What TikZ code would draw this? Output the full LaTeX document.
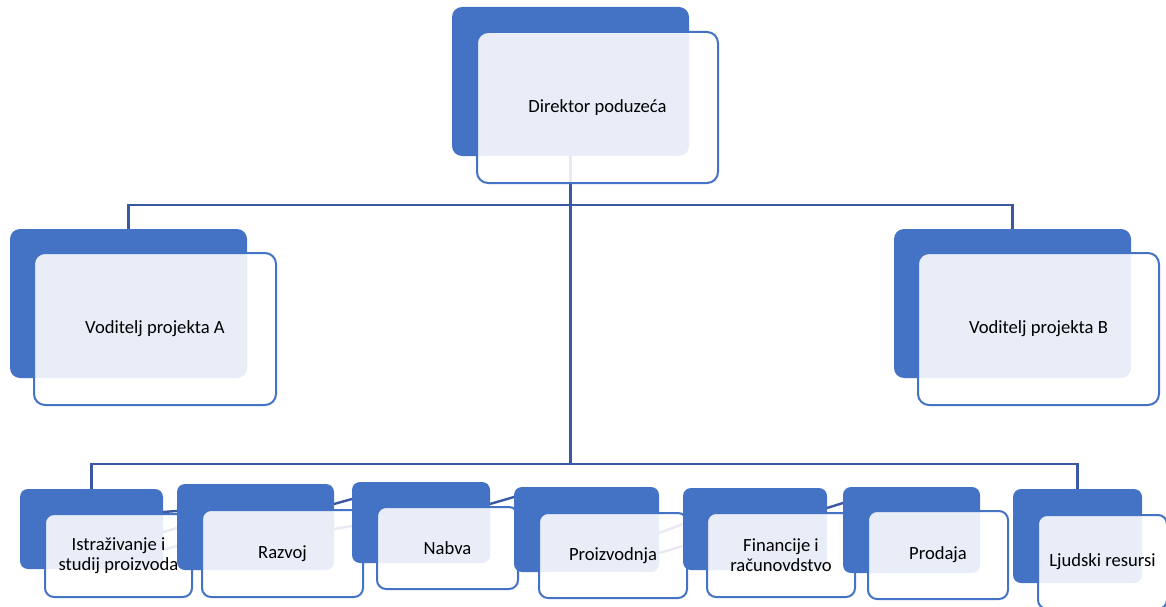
\documentclass[tikz,border=0pt]{standalone}
\usepackage{fontspec}
\setmainfont{Carlito}
\usetikzlibrary{backgrounds,calc}
\definecolor{accent}{RGB}{68,114,196}
\definecolor{conn}{RGB}{59,89,163}
\begin{document}
\begin{tikzpicture}[x=1pt,y=-1pt,
  back/.style={fill=accent, draw=none, rounded corners=10pt, inner sep=0pt, outer sep=0pt},
  front/.style={fill=white, fill opacity=0.88, text opacity=1, draw=accent, line width=2pt,
    rounded corners=11pt, inner sep=0pt, outer sep=0pt, align=center,
    font=\fontsize{18.6}{20.5}\selectfont},
  sfront/.style={front, rounded corners=9pt},
  sback/.style={back, rounded corners=8pt},
  link/.style={draw=conn, line width=2.4pt}]
\useasboundingbox (0,0) rectangle (1166,607);
\clip (0,0) rectangle (1166,607);
% top
\node[back, minimum width=237pt, minimum height=149pt] (dirB) at (570.5,81.5) {};
\node[front, minimum width=241pt, minimum height=151pt] (dirF) at (597.5,107.5) {Direktor poduzeća};
% middle
\node[back, minimum width=237pt, minimum height=149pt] (vaB) at (128.5,303.5) {};
\node[front, minimum width=242pt, minimum height=152pt] (vaF) at (155,329) {Voditelj projekta A};
\node[back, minimum width=237pt, minimum height=149pt] (vbB) at (1012.5,303.5) {};
\node[front, minimum width=241pt, minimum height=152pt] (vbF) at (1038.5,329) {Voditelj projekta B};
% bottom row
\node[sback, minimum width=143pt, minimum height=80pt] (b1) at (91.5,529) {};
\node[sfront, minimum width=147pt, minimum height=83pt] (f1) at (118.5,555.5) {Istraživanje i\\studij proizvoda};
\node[sback, minimum width=157pt, minimum height=86pt] (b2) at (255.5,527) {};
\node[sfront, minimum width=161pt, minimum height=87pt] (f2) at (282.5,553.5) {Razvoj};
\node[sback, minimum width=138pt, minimum height=81pt] (b3) at (421,522.5) {};
\node[sfront, minimum width=141pt, minimum height=82pt] (f3) at (447.5,548) {Nabva};
\node[sback, minimum width=145pt, minimum height=85pt] (b4) at (586.5,529.5) {};
\node[sfront, minimum width=148pt, minimum height=85pt] (f4) at (613,555.5) {Proizvodnja};
\node[sback, minimum width=144pt, minimum height=82pt] (b5) at (755,529) {};
\node[sfront, minimum width=148pt, minimum height=84pt] (f5) at (781,555) {Financije i\\računovdstvo};
\node[sback, minimum width=137pt, minimum height=86pt] (b6) at (911.5,530) {};
\node[sfront, minimum width=140pt, minimum height=88pt] (f6) at (938,555) {Prodaja};
\node[sback, minimum width=129pt, minimum height=94pt] (b7) at (1077.5,536) {};
\node[sfront, minimum width=129pt, minimum height=94pt] (f7) at (1102.5,562) {Ljudski resursi};
% connectors behind
\begin{pgfonlayer}{background}
\coordinate (j1) at (570.5,205);
\coordinate (j2) at (570.5,464);
\draw[link] (dirB.south) -- (j2);
\draw[link] (vaB.north) |- (j1) -| (vbB.north);
\draw[link] (b1.north) |- (j2) -| (b7.north);
\draw[link] ($(b1.east)+(0,-17)$) -- ($(b2.west)+(0,-16)$);
\draw[link] ($(b1.east)+(0,3)$) -- ($(b2.west)+(0,1)$);
\draw[link] ($(b1.east)+(0,21)$) -- ($(b2.west)+(0,19)$);
\draw[link] ($(b2.east)+(0,-23)$) -- ($(b3.west)+(0,-23.5)$);
\draw[link] ($(b2.east)+(0,2)$) -- ($(b3.west)+(0,3.5)$);
\draw[link] ($(b3.east)+(0,-18.5)$) -- ($(b4.west)+(0,-32.5)$);
\draw[link] ($(b4.east)+(0,3.5)$) -- ($(b5.west)+(0,-5)$);
\draw[link] ($(b4.east)+(0,23.5)$) -- ($(b5.west)+(0,17)$);
\draw[link] ($(b5.east)+(0,-21)$) -- ($(b6.west)+(0,-27)$);
\end{pgfonlayer}
\end{tikzpicture}
\end{document}
